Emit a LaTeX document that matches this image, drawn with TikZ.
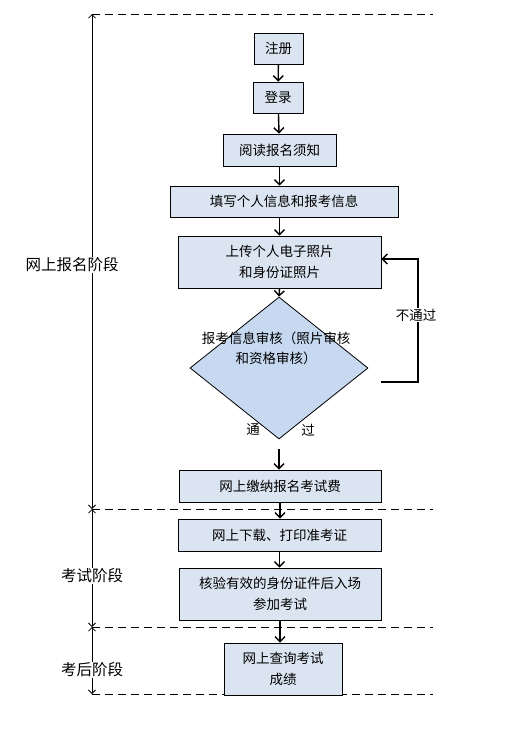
\documentclass[tikz,border=0pt]{standalone}
\usepackage{fontspec}
\setmainfont{Noto Sans CJK SC}
\usetikzlibrary{shapes.geometric,arrows.meta}
\definecolor{boxfill}{HTML}{DBE5F1}
\definecolor{diafill}{HTML}{C6D9F1}
\begin{document}
\begin{tikzpicture}[x=1pt,y=-1pt,
  stepbox/.style={draw=black,fill=boxfill,line width=0.8pt,inner sep=0pt,align=center,font=\fontsize{13.5}{20.5}\selectfont},
  checkbox/.style={draw=black,fill=diafill,diamond,line width=0.8pt,inner sep=0pt,minimum width=178pt,minimum height=142pt},
  flow/.style={line width=1.4pt,-{Straight Barb[length=5pt,width=10pt]}},
  stage/.style={line width=0.8pt,{Straight Barb[length=3.5pt,width=7pt]}-{Straight Barb[length=3.5pt,width=7pt]}},
  divide/.style={line width=1pt,dash pattern=on 8pt off 5pt},
  tag/.style={fill=white,inner sep=1pt,font=\fontsize{13.5}{20}\selectfont},
  phase/.style={fill=white,inner sep=1pt,font=\fontsize{15.5}{18}\selectfont}]
\useasboundingbox (0,0) rectangle (513,731);
\fill [white] (0,0) rectangle (513,731);
\draw [divide] (92,14) -- (433,14);
\draw [divide] (92,509) -- (433,509);
\draw [divide] (92,627) -- (433,627);
\draw [divide] (92,694) -- (433,694);
\coordinate (s0) at (92,14);
\coordinate (s1) at (92,509);
\coordinate (s2) at (92,627);
\coordinate (s3) at (92,694);
\draw [stage] (s0) -- (s1);
\draw [stage] (s1) -- (s2);
\draw [stage] (s2) -- (s3);
\node [phase] (apply) at (72,265) {网上报名阶段};
\node [phase] (exam) at (92,576) {考试阶段};
\node [phase] (after) at (92,670) {考后阶段};
\node [stepbox,minimum width=49pt,minimum height=31pt] (reg) at (278.5,48.5) {注册};
\node [stepbox,minimum width=50pt,minimum height=31pt] (login) at (278,97.5) {登录};
\node [stepbox,minimum width=113pt,minimum height=32pt] (read) at (279.5,150) {阅读报名须知};
\node [stepbox,minimum width=228pt,minimum height=31pt] (fill) at (284,201.5) {填写个人信息和报考信息};
\node [stepbox,minimum width=203pt,minimum height=52pt] (upload) at (279.5,262) {上传个人电子照片\\和身份证照片};
\node [checkbox] (check) at (279,368) {};
\node [align=center,inner sep=0pt,font=\fontsize{13.5}{20}\selectfont] (checktext) at (276,348) {报考信息审核（照片审核\\和资格审核）};
\node [tag,fill=none] (pass1) at (253,430) {通};
\node [tag,fill=none] (pass2) at (308,430) {过};
\node [stepbox,minimum width=202pt,minimum height=32pt] (pay) at (280,486) {网上缴纳报名考试费};
\node [stepbox,minimum width=203pt,minimum height=32pt] (ticket) at (279.5,535) {网上下载、打印准考证};
\node [stepbox,minimum width=202pt,minimum height=52pt] (enter) at (280,594) {核验有效的身份证件后入场\\参加考试};
\node [stepbox,minimum width=118pt,minimum height=52pt] (score) at (283,669) {网上查询考试\\成绩};
\draw [flow] (reg) -- (login);
\draw [flow] (login) -- (read);
\draw [flow] (read.south) -- (read.south |- fill.north);
\draw [flow] (fill.south -| upload.north) -- (upload.north);
\draw [flow] (upload.south) -- (check.north);
\draw [flow,shorten <=10pt] (check.south) -- (check.south |- pay.north);
\draw [flow] (pay.south) -- (pay.south |- ticket.north);
\draw [flow] (ticket.south) -- (ticket.south |- enter.north);
\draw [flow] (enter.south) -- (enter.south |- score.north);
\coordinate (back) at (381,382);
\draw [flow] (back) -- ++(37,0) |- ([yshift=3pt]upload.east);
\node [tag] (fail) at (416,315) {不通过};
\end{tikzpicture}
\end{document}
